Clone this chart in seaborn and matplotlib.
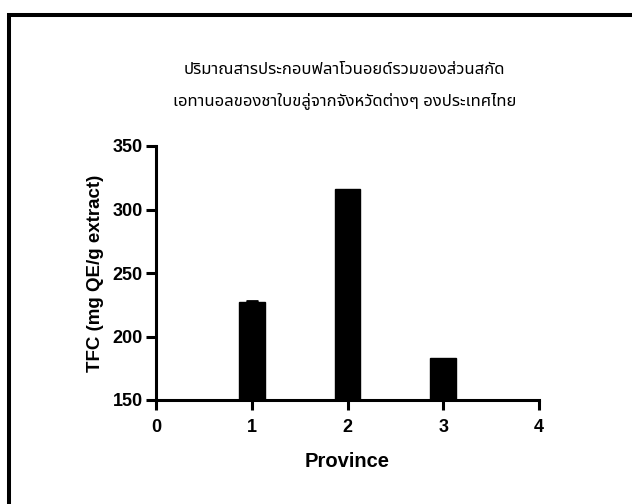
import matplotlib
matplotlib.use("Agg")
import matplotlib.pyplot as plt
from matplotlib import font_manager
from matplotlib.ft2font import FT2Font
from matplotlib.patches import Rectangle
import seaborn as sns
import pandas as pd

# Data: total flavonoid content per province
provinces = [1, 2, 3]
tfc_values = [227, 316, 183]
tfc_err = [1.3, 0.0, 0.0]

title_lines = [
    "ปริมาณสารประกอบฟลาโวนอยด์รวมของส่วนสกัด",
    "เอทานอลของชาใบขลู่จากจังหวัดต่างๆ องประเทศไทย",
]
x_ticks = [0, 1, 2, 3, 4]
y_ticks = [150, 200, 250, 300, 350]


def find_thai_font():
    preferred = ["Tahoma", "Noto Sans Thai", "Noto Sans Thai UI", "Loma", "Garuda",
                 "Norasi", "Sarabun", "Kinnari", "Waree", "Laksaman"]
    candidates = []
    for path in font_manager.findSystemFonts():
        try:
            f = FT2Font(path)
            cmap = f.get_charmap()
        except Exception:
            continue
        if 0x0E1B in cmap and 0x0E34 in cmap:
            candidates.append((f.family_name, path))
    for name in preferred:
        for fam, path in candidates:
            if fam == name:
                return path
    return candidates[0][1] if candidates else None


sns.set_theme(style="ticks")
plt.rcParams["font.family"] = ["Liberation Sans", "DejaVu Sans"]
plt.rcParams["text.color"] = "black"
plt.rcParams["axes.labelcolor"] = "black"

df = pd.DataFrame({"Province": provinces, "TFC": tfc_values})

fig = plt.figure(figsize=(6.32, 5.04), dpi=100)
ax = fig.add_axes([156 / 632, 1 - 400 / 504, (539 - 156) / 632, (400 - 146) / 504])

sns.barplot(data=df, x="Province", y="TFC", native_scale=True, width=0.27,
            color="black", edgecolor="black", saturation=1, errorbar=None, ax=ax)

# Upward error bars only where an error is present
err_x = [p for p, e in zip(provinces, tfc_err) if e > 0]
err_y = [v for v, e in zip(tfc_values, tfc_err) if e > 0]
err_up = [e for e in tfc_err if e > 0]
if err_x:
    ax.errorbar(err_x, err_y, yerr=[[0] * len(err_up), err_up], fmt="none",
                ecolor="black", elinewidth=2, capsize=4, capthick=2)

ax.set_xlim(0, 4)
ax.set_ylim(150, 350)
ax.set_xticks(x_ticks)
ax.set_yticks(y_ticks)
ax.set_xticklabels([str(t) for t in x_ticks], fontsize=13, fontweight="bold")
ax.set_yticklabels([str(t) for t in y_ticks], fontsize=13, fontweight="bold")
ax.set_xlabel("Province", fontsize=14.5, fontweight="bold", labelpad=12, color="black")
ax.set_ylabel("TFC (mg QE/g extract)", fontsize=13.5, fontweight="bold", labelpad=6,
              color="black")

for side in ["top", "right"]:
    ax.spines[side].set_visible(False)
for side in ["left", "bottom"]:
    ax.spines[side].set_linewidth(2.2)
    ax.spines[side].set_color("black")
ax.tick_params(axis="both", direction="out", length=7.5, width=2.2, color="black",
               labelcolor="black")
ax.tick_params(axis="x", pad=6)
ax.tick_params(axis="y", pad=2)
ax.set_facecolor("white")
ax.grid(False)

thai_path = find_thai_font()
if thai_path:
    thai_font = font_manager.FontProperties(fname=thai_path, size=12)
else:
    thai_font = font_manager.FontProperties(size=12)
fig.text(344 / 632, 1 - 70 / 504, title_lines[0], ha="center", va="center",
         fontproperties=thai_font, color="black")
fig.text(345 / 632, 1 - 101 / 504, title_lines[1], ha="center", va="center",
         fontproperties=thai_font, color="black")

# Frame around the figure, running past the right and bottom edges
fig.patches.append(Rectangle((9 / 632, -0.1), 1.2, 1 - 15 / 504 + 0.1,
                             transform=fig.transFigure, fill=False,
                             edgecolor="black", linewidth=2.9))

fig.savefig("out.png", dpi=100, facecolor="white")
